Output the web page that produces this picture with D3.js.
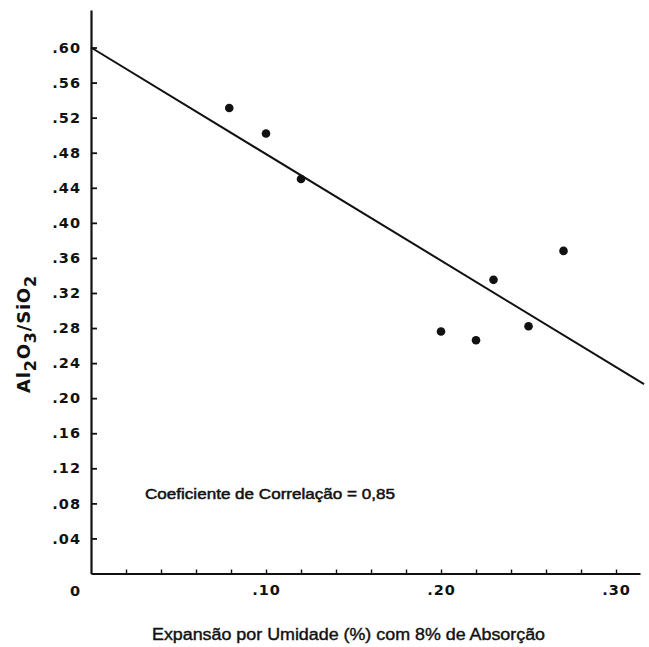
<!DOCTYPE html>
<html>
<head>
<meta charset="utf-8">
<script src="https://cdn.jsdelivr.net/npm/d3@7"></script>
<style>
  html, body { margin: 0; padding: 0; background: #fff; }
  svg { display: block; }
</style>
</head>
<body>
<svg id="chart" width="649" height="647"></svg>
<script>
// ---- data ----
const pointX = [0.079, 0.100, 0.120, 0.200, 0.220, 0.230, 0.250, 0.270];
const pointY = [0.531, 0.502, 0.450, 0.276, 0.266, 0.335, 0.282, 0.368];
const fitX = [0, 0.316];
const fitY = [0.600, 0.216];
const yTickValues = [0.04, 0.08, 0.12, 0.16, 0.20, 0.24, 0.28, 0.32, 0.36, 0.40, 0.44, 0.48, 0.52, 0.56, 0.60];
const yTickLabels = [".04", ".08", ".12", ".16", ".20", ".24", ".28", ".32", ".36", ".40", ".44", ".48", ".52", ".56", ".60"];
const xMinorTicks = [0.02, 0.04, 0.06, 0.08, 0.10, 0.12, 0.14, 0.16, 0.18, 0.20, 0.22, 0.24, 0.26, 0.28, 0.30];
const xTickValues = [0.10, 0.20, 0.30];
const xTickLabels = [".10", ".20", ".30"];
const originLabel = "0";
const xTitle = "Expansão por Umidade (%) com 8% de Absorção";
const annotation = "Coeficiente de Correlação = 0,85";

// ---- layout ----
const svg = d3.select("#chart");
const x = d3.scaleLinear().domain([0, 0.3137]).range([91, 640]);
const y = d3.scaleLinear().domain([0, 0.6428]).range([573.5, 10]);

const tickFont = "'DejaVu Sans', sans-serif";

// y axis
const yAxis = d3.axisLeft(y)
  .tickValues(yTickValues)
  .tickFormat((d, i) => yTickLabels[i])
  .tickSizeInner(-6).tickSizeOuter(0)
  .tickPadding(10);
const gy = svg.append("g").attr("transform", `translate(${x(0)},0)`).call(yAxis);
gy.select(".domain").attr("stroke", "#111").attr("stroke-width", 2.2);
gy.selectAll(".tick line").attr("stroke", "#111").attr("stroke-width", 1.8);
gy.selectAll(".tick text")
  .attr("font-family", tickFont).attr("font-weight", "bold")
  .attr("font-size", 14.5).attr("letter-spacing", 1).attr("fill", "#111");

// x axis (minor ticks)
const xAxisMinor = d3.axisBottom(x)
  .tickValues(xMinorTicks).tickFormat("")
  .tickSizeInner(-4).tickSizeOuter(0);
const gx = svg.append("g").attr("transform", `translate(0,${y(0)})`).call(xAxisMinor);
gx.select(".domain").attr("stroke", "#111").attr("stroke-width", 2.2);
gx.selectAll(".tick line").attr("stroke", "#111").attr("stroke-width", 1.4);

// x axis labels
const xAxisLab = d3.axisBottom(x)
  .tickValues(xTickValues)
  .tickFormat((d, i) => xTickLabels[i])
  .tickSize(0).tickPadding(11);
const gxl = svg.append("g").attr("transform", `translate(0,${y(0)})`).call(xAxisLab);
gxl.select(".domain").remove();
gxl.selectAll(".tick text")
  .attr("font-family", tickFont).attr("font-weight", "bold")
  .attr("font-size", 14.5).attr("letter-spacing", 1).attr("fill", "#111");

// origin label
svg.append("text")
  .attr("x", x(0) - 16).attr("y", y(0) + 22)
  .attr("text-anchor", "middle")
  .attr("font-family", tickFont).attr("font-weight", "bold")
  .attr("font-size", 14.5).attr("fill", "#111")
  .text(originLabel);

// regression line
const line = d3.line().x(d => x(d[0])).y(d => y(d[1]));
svg.append("path")
  .datum(fitX.map((v, i) => [v, fitY[i]]))
  .attr("d", line)
  .attr("fill", "none").attr("stroke", "#111").attr("stroke-width", 2);

// points
svg.append("g").selectAll("circle")
  .data(pointX.map((v, i) => [v, pointY[i]]))
  .join("circle")
  .attr("cx", d => x(d[0])).attr("cy", d => y(d[1]))
  .attr("r", 4.3).attr("fill", "#111");

// annotation
svg.append("text")
  .attr("x", 145).attr("y", 499)
  .attr("font-family", "'Liberation Sans', Arial, sans-serif")
  .attr("font-size", 15).attr("fill", "#111")
  .attr("stroke", "#111").attr("stroke-width", 0.5)
  .attr("textLength", 250).attr("lengthAdjust", "spacingAndGlyphs")
  .text(annotation);

// x title
svg.append("text")
  .attr("x", 152).attr("y", 640)
  .attr("font-family", "'Liberation Sans', Arial, sans-serif")
  .attr("font-size", 16).attr("fill", "#111")
  .attr("stroke", "#111").attr("stroke-width", 0.4)
  .attr("textLength", 393).attr("lengthAdjust", "spacingAndGlyphs")
  .text(xTitle);

// y title: Al2O3/SiO2
const yt = svg.append("text")
  .attr("transform", "translate(30,334) rotate(-90)")
  .attr("text-anchor", "middle")
  .attr("font-family", tickFont).attr("font-weight", "bold")
  .attr("font-size", 18).attr("fill", "#111").attr("letter-spacing", 0.8);
const parts = [["Al", false], ["2", true], ["O", false], ["3", true], ["/SiO", false], ["2", true]];
parts.forEach(([t, sub], i) => {
  const prevSub = i > 0 && parts[i - 1][1];
  yt.append("tspan")
    .attr("dy", sub ? 6 : (prevSub ? -6 : 0))
    .attr("font-size", sub ? 16 : 18)
    .text(t);
});
</script>
</body>
</html>
